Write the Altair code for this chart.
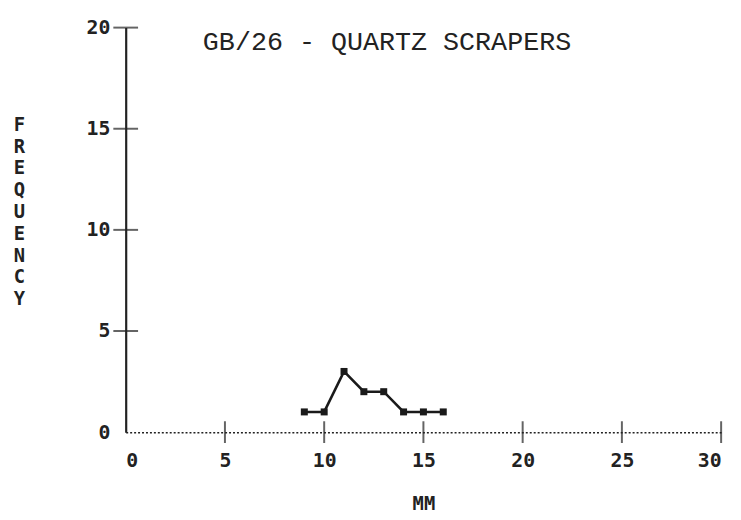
import altair as alt
import pandas as pd

# data
size_mm = [9, 10, 11, 12, 13, 14, 15, 16]
frequency = [1, 1, 3, 2, 2, 1, 1, 1]

x_ticks = [0, 5, 10, 15, 20, 25, 30]
y_ticks = [0, 5, 10, 15, 20]
x_cross_ticks = [5, 10, 15, 20, 25, 30]
y_cross_ticks = [5, 10, 15, 20]

title_text = ["GB/26 - QUARTZ SCRAPERS"]
x_title = "MM"
y_title = "FREQUENCY"

df = pd.DataFrame({"mm": size_mm, "freq": frequency})
df_xt = pd.DataFrame({"mm": x_cross_ticks, "freq": [0] * len(x_cross_ticks)})
df_yt = pd.DataFrame({"mm": [0] * len(y_cross_ticks), "freq": y_cross_ticks})
df_title = pd.DataFrame({"t": title_text})

LABEL_FONT = "DejaVu Sans Mono"

xscale = alt.Scale(domain=[0, 30], nice=False, zero=False)
yscale = alt.Scale(domain=[0, 20], nice=False, zero=False)

x_axis = alt.Axis(
    values=x_ticks, ticks=False, grid=False,
    domainColor="#222", domainWidth=1.5, domainDash=[2, 2],
    labelFont=LABEL_FONT, labelFontSize=20, labelFontWeight="bold", labelColor="#222",
    labelPadding=19, labelAngle=0,
    title=x_title, titleFont=LABEL_FONT, titleFontSize=19, titleFontWeight="bold",
    titleColor="#222", titleX=301, titleY=72, titleBaseline="middle", titleAlign="center",
)
y_axis = alt.Axis(
    values=y_ticks, ticks=False, grid=False,
    domainColor="#222", domainWidth=2.2,
    labelFont=LABEL_FONT, labelFontSize=20, labelFontWeight="bold", labelColor="#222",
    labelPadding=16,
    title=list(y_title), titleFont=LABEL_FONT, titleFontSize=19, titleFontWeight="bold",
    titleColor="#222", titleAngle=0, titleAlign="center", titleBaseline="top",
    titleX=-108, titleY=89, titleLineHeight=22,
)

X = alt.X("mm:Q", scale=xscale, axis=x_axis)
Y = alt.Y("freq:Q", scale=yscale, axis=y_axis)

base_line = alt.Chart(df).mark_line(color="#1a1a1a", strokeWidth=2.6).encode(x=X, y=Y)
pts = alt.Chart(df).mark_point(
    shape="square", filled=True, size=50, color="#1a1a1a", opacity=1
).encode(x=X, y=Y)
xt = alt.Chart(df_xt).mark_tick(
    orient="vertical", size=22, thickness=2, color="#222"
).encode(x=X, y=Y)
yt = alt.Chart(df_yt).mark_tick(
    orient="horizontal", size=25, thickness=2, color="#222"
).encode(x=X, y=Y)
title = alt.Chart(df_title).mark_text(
    align="left", baseline="alphabetic", font="Liberation Mono",
    fontSize=27, color="#222",
).encode(text="t:N", x=alt.value(78), y=alt.value(23))

chart = alt.layer(base_line, xt, yt, pts, title).properties(
    width=602,
    height=409,
    autosize=alt.AutoSizeParams(type="none"),
    padding={"left": 119, "top": 17, "right": 12, "bottom": 86},
).configure_view(stroke=None)

chart.save("out.html", embed_options={"renderer": "svg", "actions": False})
